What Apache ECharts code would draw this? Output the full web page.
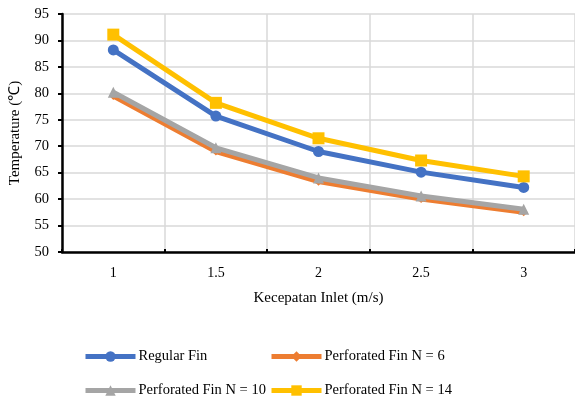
<!DOCTYPE html>
<html><head><meta charset="utf-8">
<script src="https://cdn.jsdelivr.net/npm/echarts@6/dist/echarts.min.js"></script>
<style>html,body{margin:0;padding:0;background:#fff}#c{width:575px;height:403px}</style>
</head><body><div id="c"></div>
<script>
var categories = ['1', '1.5', '2', '2.5', '3'];
var regularFin = [88.2, 75.7, 69.0, 65.1, 62.2];
var perforatedN6 = [79.5, 69.0, 63.3, 60.0, 57.5];
var perforatedN10 = [80.2, 69.7, 64.0, 60.6, 58.1];
var perforatedN14 = [91.1, 78.2, 71.5, 67.3, 64.3];
var seriesNames = ['Regular Fin', 'Perforated Fin N = 6', 'Perforated Fin N = 10', 'Perforated Fin N = 14'];

var font = 'Liberation Serif';
var chart = echarts.init(document.getElementById('c'));
function mk(name, data, color, symbol, size, z) {
  return {
    name: name, type: 'line', data: data, symbol: symbol, symbolSize: size,
    lineStyle: {color: color, width: 5}, itemStyle: {color: color},
    z: z, animation: false
  };
}
function lg(name, left, top) {
  return {
    left: left, top: top, padding: 0, data: [name],
    itemWidth: 50, itemHeight: 13, itemGap: 0,
    lineStyle: {width: 5},
    textStyle: {fontFamily: font, fontSize: 14.5, color: '#000', padding: [0,0,0,-2]}
  };
}
chart.setOption({
  animation: false,
  grid: {left: 62, right: -2, top: 14, bottom: 151},
  legend: [
    lg(seriesNames[0], 83, 349),
    lg(seriesNames[1], 269, 349),
    lg(seriesNames[2], 83, 383),
    lg(seriesNames[3], 269, 383)
  ],
  xAxis: {
    type: 'category', data: categories, boundaryGap: true,
    name: 'Kecepatan Inlet (m/s)', nameLocation: 'middle', nameGap: 39,
    nameTextStyle: {fontFamily: font, fontSize: 15, color: '#000'},
    axisLine: {lineStyle: {color: '#000', width: 2.5}},
    axisTick: {show: true, inside: true, length: 3, lineStyle: {color: '#000', width: 2}},
    axisLabel: {fontFamily: font, fontSize: 14, color: '#000', margin: 14},
    splitLine: {show: true, lineStyle: {color: '#d9d9d9', width: 1.5}}
  },
  yAxis: {
    type: 'value', min: 50, max: 95, interval: 5,
    name: 'Temperature (\u2103)', nameLocation: 'middle', nameGap: 39, nameRotate: 90,
    nameTextStyle: {fontFamily: font, fontSize: 15, color: '#000'},
    axisLine: {show: true, lineStyle: {color: '#000', width: 2.5}},
    axisTick: {show: true, length: 4, lineStyle: {color: '#000', width: 2}},
    axisLabel: {fontFamily: font, fontSize: 14.5, color: '#000', margin: 13},
    splitLine: {show: true, lineStyle: {color: '#d9d9d9', width: 1.5}}
  },
  series: [
    mk(seriesNames[0], regularFin, '#4472C4', 'circle', 11, 2),
    mk(seriesNames[1], perforatedN6, '#ED7D31', 'diamond', 8, 3),
    mk(seriesNames[2], perforatedN10, '#A5A5A5', 'triangle', 11, 4),
    mk(seriesNames[3], perforatedN14, '#FFC000', 'rect', 12, 5)
  ]
});
</script></body></html>
